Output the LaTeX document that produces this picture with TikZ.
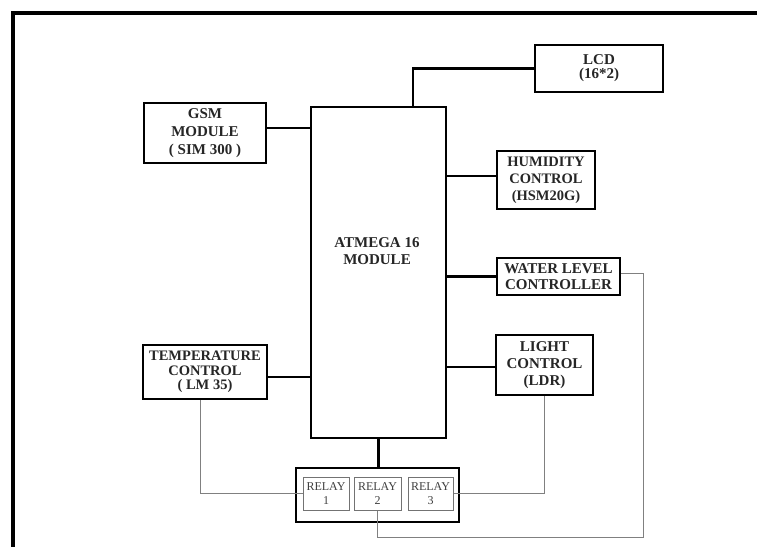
\documentclass[tikz,border=0pt]{standalone}
\usepackage{fontspec}
\setmainfont{Liberation Serif}
\begin{document}
\begin{tikzpicture}[x=1pt,y=-1pt,
  blk/.style={draw=black,line width=2.4pt,rectangle,inner sep=0pt,align=center,
    font=\bfseries\fontsize{15}{16.5}\selectfont,text=black!85},
  rel/.style={draw=black!55,line width=1pt,rectangle,inner sep=0pt,align=center,
    font=\fontsize{12}{13.5}\selectfont,text=black!75,minimum height=33pt},
  wire/.style={draw=black,line width=2.4pt},
  thin/.style={draw=black!50,line width=1pt},
  frame/.style={draw=black,line width=4pt}]
\useasboundingbox (0,0) rectangle (757,546);
\fill[white] (0,0) rectangle (757,546);
\draw[frame] (13,548) -- (13,13) -- (759,13);

\node[blk,minimum width=135pt,minimum height=331pt] (main) at (378.5,272.5) {};
\node[font=\bfseries\fontsize{15}{16.5}\selectfont,text=black!85,align=center,inner sep=0pt] (maintext) at (377,251) {ATMEGA 16\\MODULE};
\node[blk,minimum width=128pt,minimum height=47pt,font=\bfseries\fontsize{15}{14}\selectfont] (lcd) at (599,68.5) {LCD\\(16*2)};
\node[blk,minimum width=122pt,minimum height=60pt,font=\bfseries\fontsize{15}{18}\selectfont] (gsm) at (205,133) {GSM\\MODULE\\( SIM 300 )};
\node[blk,minimum width=98pt,minimum height=58pt,font=\bfseries\fontsize{14.5}{17}\selectfont] (hum) at (546,180) {HUMIDITY\\CONTROL\\(HSM20G)};
\node[blk,minimum width=123pt,minimum height=37pt,font=\bfseries\fontsize{15}{15.5}\selectfont] (water) at (558.5,276.5) {WATER LEVEL\\CONTROLLER};
\node[blk,minimum width=97pt,minimum height=60pt,font=\bfseries\fontsize{15}{17}\selectfont] (light) at (544.5,365) {LIGHT\\CONTROL\\(LDR)};
\node[blk,minimum width=124pt,minimum height=54pt,font=\bfseries\fontsize{14.5}{14.5}\selectfont] (temp) at (205,372) {TEMPERATURE\\CONTROL\\( LM 35)};

\node[blk,minimum width=163pt,minimum height=54pt] (relaybox) at (377.5,495) {};
\node[rel,minimum width=46pt] (r1) at (326,493.5) {RELAY\\1};
\node[rel,minimum width=47pt] (r2) at (377.5,493.5) {RELAY\\2};
\node[rel,minimum width=45pt] (r3) at (430.5,493.5) {RELAY\\3};

% thick connectors
\draw[wire] (lcd.west) -| ([xshift=34.5pt]main.north);
\draw[wire] ([yshift=5pt]gsm.east) -- ([yshift=5pt]gsm.east -| main.west);
\draw[wire] ([yshift=4pt]hum.west) -- ([yshift=4pt]hum.west -| main.east);
\draw[wire] (water.west) -- (water.west -| main.east);
\draw[wire] ([yshift=-2pt]light.west) -- ([yshift=-2pt]light.west -| main.east);
\draw[wire] ([yshift=-5pt]temp.east) -- ([yshift=-5pt]temp.east -| main.west);
\draw[wire] (main.south) -- (main.south |- relaybox.north);

% thin relay wires
\coordinate (wc) at (643,537);
\draw[thin] ([xshift=-5pt]temp.south) |- (r1.west);
\draw[thin] (light.south) |- (r3.east);
\draw[thin] ([yshift=3pt]water.east) -| (wc) -| (r2.south);
\end{tikzpicture}
\end{document}
